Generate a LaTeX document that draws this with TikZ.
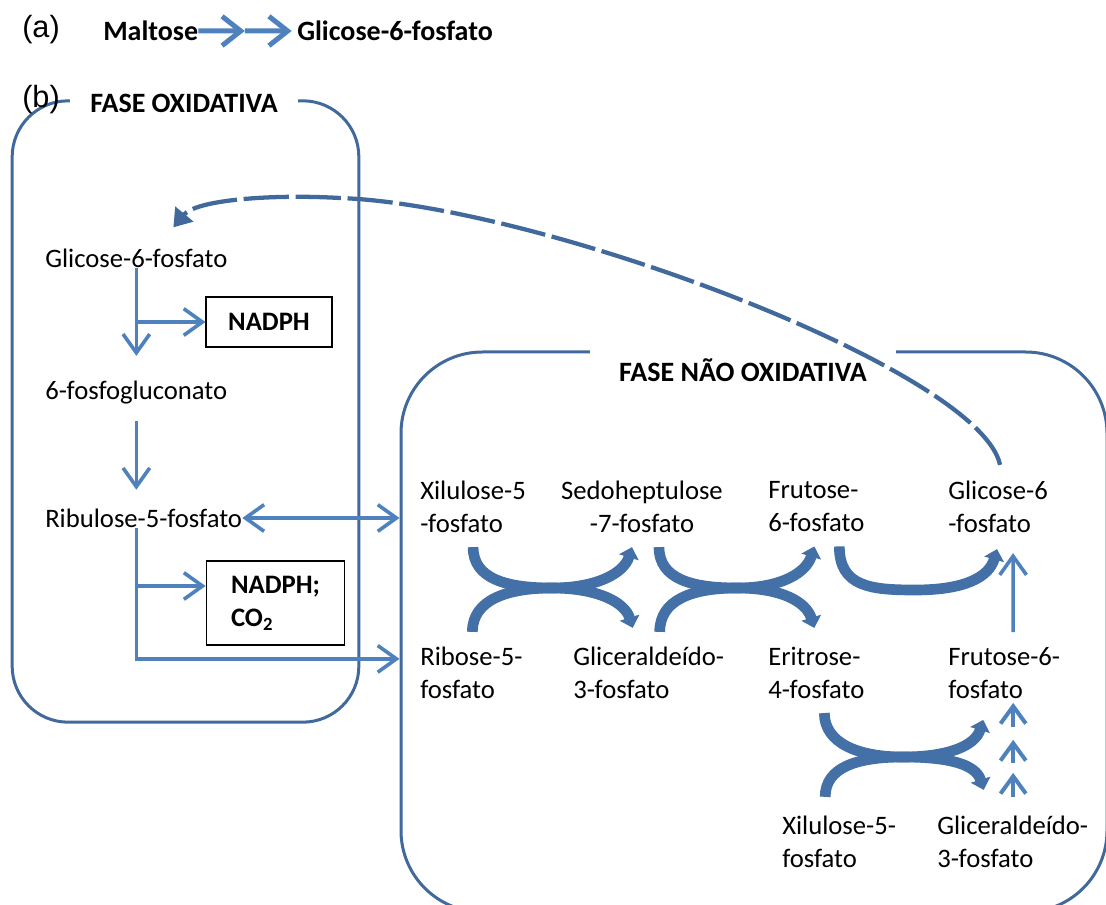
\documentclass[tikz,border=0pt]{standalone}
\usepackage{fontspec}
\setmainfont{Carlito}
\newfontfamily\arialfont{Liberation Sans}
\usetikzlibrary{arrows.meta,calc}
\definecolor{flowblue}{HTML}{4F81BD}
\definecolor{frameblue}{HTML}{41699C}
\definecolor{darkblue}{HTML}{4370A6}

\begin{document}
\begin{tikzpicture}[x=0.75pt,y=-0.75pt,
    txt/.style={anchor=west, inner sep=0pt, align=left, font=\fontsize{20}{24.75}\selectfont},
    tag/.style={anchor=west, inner sep=0pt, font=\arialfont\fontsize{23}{26}\selectfont},
    prodbox/.style={draw, line width=0.8pt, inner sep=0pt, font=\bfseries\fontsize{20}{24.75}\selectfont},
    phase/.style={draw=frameblue, line width=2.25pt, inner sep=0pt},
    phaselbl/.style={fill=white, inner ysep=10pt, inner xsep=15pt, font=\bfseries\fontsize{21}{24}\selectfont},
    flow/.style={draw=flowblue, line width=2.7pt, -{Straight Barb[length=14pt,width=20pt]}},
    flowtwo/.style={draw=flowblue, line width=2.7pt, {Straight Barb[length=14pt,width=20pt]}-{Straight Barb[length=14pt,width=20pt]}},
    aarr/.style={draw=flowblue, line width=3.75pt, -{Straight Barb[length=14pt,width=22pt]}},
    small/.style={draw=flowblue, line width=3pt, -{Straight Barb[length=13pt,width=19pt]}},
    bigarr/.style={draw=darkblue, line width=8pt, -{Triangle[length=8pt,width=15pt]}},
    back/.style={draw=frameblue, line width=3.2pt, dash pattern=on 34pt off 5pt, -{Triangle[length=13pt,width=17pt]}}]
  \useasboundingbox (0,0) rectangle (1106,905);

  \node[phase, rounded corners=42pt, minimum width=260pt, minimum height=466pt] (ox) at (185.5,411.5) {};
  \node[phase, rounded corners=61pt, minimum width=529.5pt, minimum height=420pt] (nonox) at (754,632) {};
  \node[phaselbl] (oxlbl) at (184,103) {FASE OXIDATIVA};
  \node[phaselbl, inner xsep=22pt] (nonoxlbl) at (743,370) {FASE NÃO OXIDATIVA};

  \node[tag] (a) at (22,30) {(a)};
  \node[tag] (b) at (22,100) {(b)};
  \node[txt, font=\bfseries\fontsize{21}{24}\selectfont] (malt) at (103,31) {Maltose};
  \node[txt, font=\bfseries\fontsize{21}{24}\selectfont] (g6pa) at (297,31) {Glicose-6-fosfato};
  \coordinate (amid) at ($(malt.east)!0.47!(g6pa.west)$);
  \draw[aarr] (malt.east) -- (amid);
  \draw[aarr, shorten >=4pt] (amid) -- (g6pa.west);

  \node[txt] (g6p) at (45,258) {Glicose-6-fosfato};
  \node[prodbox, minimum width=94.5pt, minimum height=37.5pt] (nadph) at (269,322) {NADPH};
  \node[txt] (pgl) at (45,393) {6-fosfogluconato};
  \node[txt] (ru5p) at (45,518) {Ribulose-5-fosfato};
  \node[prodbox, align=left, minimum width=104pt, minimum height=63pt] (nadphco) at (275.5,603) {NADPH;\\CO\textsubscript{2}};

  \node[txt] (xil) at (420,507) {Xilulose-5\\-fosfato};
  \node[txt, anchor=center, align=center] (sed) at (642,507) {Sedoheptulose\\-7-fosfato};
  \node[txt] (fru) at (768,507) {Frutose-\\6-fosfato};
  \node[txt] (glc) at (948,507) {Glicose-6\\-fosfato};
  \node[txt] (rib) at (420,673) {Ribose-5-\\fosfato};
  \node[txt] (gap) at (573,673) {Gliceraldeído-\\3-fosfato};
  \node[txt] (eri) at (768,673) {Eritrose-\\4-fosfato};
  \node[txt] (frub) at (948,673) {Frutose-6-\\fosfato};
  \node[txt] (xilb) at (782,842) {Xilulose-5-\\fosfato};
  \node[txt] (gapb) at (937,842) {Gliceraldeído-\\3-fosfato};

  \draw[flow, shorten >=19pt] (g6p.south) -- (g6p.south |- pgl.north);
  \draw[flow] (g6p.south |- nadph.west) -- (nadph.west);
  \draw[flow, shorten <=12pt, shorten >=14pt] (g6p.south |- pgl.south) -- (g6p.south |- ru5p.north);
  \draw[flow] (g6p.south |- ru5p.south) |- ($(rib.north -| nonox.west)+(0,12)$);
  \draw[flow] ($(g6p.south |- nadphco.west)+(0,-17)$) -- ($(nadphco.west)+(0,-17)$);
  \draw[flowtwo] (ru5p.east) -- (ru5p.east -| nonox.west);

  \coordinate (x1) at (552,588);
  \coordinate (x2) at (737,588);
  \coordinate (u1) at (915,590);
  \coordinate (x3) at (903,757);
  \draw[bigarr] ($(xil.south)+(0,14)$) .. controls +(0,32) and +(-45,0) .. (x1) .. controls +(45,0) and +(-8,-26) .. ($(gap.north)+(-16,-19)$);
  \draw[bigarr] ($(rib.north)+(1,-15)$) .. controls +(0,-32) and +(-45,0) .. (x1) .. controls +(45,0) and +(-8,26) .. ($(sed.south)+(-10,14)$);
  \draw[bigarr] ($(sed.south)+(17,14)$) .. controls +(0,32) and +(-45,0) .. (x2) .. controls +(45,0) and +(-8,-26) .. ($(eri.north)+(-2,-19)$);
  \draw[bigarr] ($(gap.north)+(11,-15)$) .. controls +(0,-32) and +(-45,0) .. (x2) .. controls +(45,0) and +(-8,26) .. ($(fru.south)+(-2,14)$);
  \draw[bigarr] ($(fru.south)+(23,14)$) .. controls +(0,40) and +(-45,0) .. (u1) .. controls +(50,0) and +(-8,28) .. ($(glc.south)+(-1,16)$);
  \draw[bigarr] ($(eri.south)+(8,14)$) .. controls +(0,30) and +(-45,0) .. (x3) .. controls +(45,0) and +(-8,-26) .. ($(gapb.north)+(-29,-26)$);
  \draw[bigarr] ($(xilb.north)+(-14,-19)$) .. controls +(0,-30) and +(-45,0) .. (x3) .. controls +(45,0) and +(-8,26) .. ($(frub.south)+(-21,21)$);

  \draw[flow] ($(frub.north)+(9,-15)$) -- ($(glc.south)+(15,20)$);
  \foreach \a/\b in {4/28, 41/64, 74/98}
    \draw[small] ($(frub.south)+(9,\b)$) -- ($(frub.south)+(9,\a)$);

  \draw[back] ($(glc.north)+(2,-16)$) .. controls (980,370) and (540,205) .. (340,198)
    .. controls (270,194) and (196,200) .. ($(g6p.north)+(37,-21)$);
\end{tikzpicture}
\end{document}
